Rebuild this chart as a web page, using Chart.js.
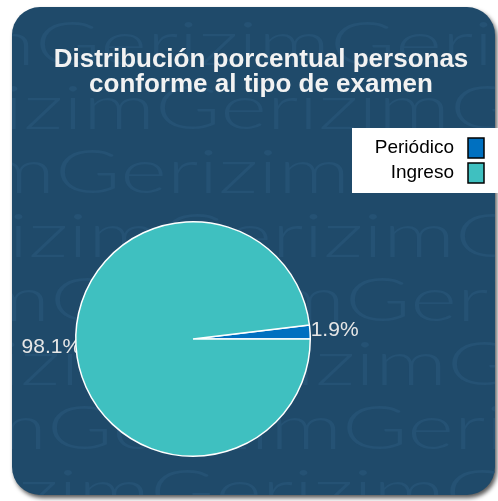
<!DOCTYPE html>
<html>
<head>
<meta charset="utf-8">
<script src="https://cdn.jsdelivr.net/npm/chart.js@4"></script>
<style>
  body { margin: 0; background: #ffffff; }
  #chart { display: block; }
</style>
</head>
<body>
<canvas id="chart" width="498" height="501"></canvas>
<script>
// data
const categories = ["Periódico", "Ingreso"];
const percentages = [1.9, 98.1];
const sliceColors = ["#0070C0", "#3FC0C0"];
const titleLines = ["Distribución porcentual personas", "conforme al tipo de examen"];

// watermark rows: baseline y and x where a "G" starts
const wmBaselines = [65, 129, 193, 257, 321, 385, 449, 513];
const wmOffsets = [35, 155, 55, 160, 50, 152, 47, 150];

const CARD = { x: 12, y: 7, w: 483, h: 488, r: 28 };

function cardPath(ctx) {
  ctx.beginPath();
  ctx.roundRect(CARD.x, CARD.y, CARD.w, CARD.h, CARD.r);
}

const backgroundPlugin = {
  id: "cardBackground",
  beforeDraw(chart) {
    const ctx = chart.ctx;
    ctx.save();
    ctx.fillStyle = "#ffffff";
    ctx.fillRect(0, 0, chart.width, chart.height);

    // card with shadow
    ctx.shadowColor = "rgba(0,0,0,0.65)";
    ctx.shadowBlur = 4;
    ctx.shadowOffsetX = 2;
    ctx.shadowOffsetY = 3;
    cardPath(ctx);
    ctx.fillStyle = "#1f4a6a";
    ctx.fill();
    ctx.shadowColor = "transparent";

    // watermark
    cardPath(ctx);
    ctx.clip();
    ctx.font = "300 62px Lato";
    ctx.fillStyle = "#255274";
    ctx.textBaseline = "alphabetic";
    const word = "Gerizim";
    const sx = 295 / ctx.measureText(word).width;
    wmBaselines.forEach((y, i) => {
      let x = wmOffsets[i] - 295;
      ctx.save();
      ctx.scale(sx, 1);
      while (x < chart.width) {
        ctx.fillText(word, x / sx, y);
        x += 295;
      }
      ctx.restore();
    });
    ctx.restore();
  },
  // percentage labels sit under the pie, centred at ~1.21 r
  beforeDatasetsDraw(chart) {
    const ctx = chart.ctx;
    const meta = chart.getDatasetMeta(0);
    ctx.save();
    ctx.font = "21px Arial";
    ctx.fillStyle = "#e6e6e6";
    ctx.textAlign = "center";
    ctx.textBaseline = "middle";
    meta.data.forEach((arc, i) => {
      const p = arc.getProps(["x", "y", "startAngle", "endAngle", "outerRadius"], true);
      const mid = (p.startAngle + p.endAngle) / 2;
      const r = p.outerRadius * 1.21;
      ctx.fillText(percentages[i].toFixed(1) + "%", p.x + Math.cos(mid) * r, p.y + Math.sin(mid) * r);
    });
    ctx.restore();
  },
};

const overlayPlugin = {
  id: "overlay",
  afterDraw(chart) {
    const ctx = chart.ctx;
    ctx.save();

    // title
    ctx.fillStyle = "#f2f2f2";
    ctx.font = "bold 26px Arial";
    ctx.textAlign = "center";
    ctx.textBaseline = "alphabetic";
    titleLines.forEach((line, i) => {
      ctx.fillText(line, 261, 67 + i * 25);
    });

    // legend
    ctx.fillStyle = "#ffffff";
    ctx.fillRect(352, 128, 146, 65);
    ctx.font = "19px Arial";
    ctx.textAlign = "right";
    ctx.textBaseline = "middle";
    categories.forEach((name, i) => {
      const cy = 148 + i * 25;
      ctx.fillStyle = "#000000";
      ctx.fillText(name, 454, cy);
      ctx.fillStyle = sliceColors[i];
      ctx.fillRect(468, cy - 10, 16, 20);
      ctx.strokeStyle = "#000000";
      ctx.lineWidth = 1.5;
      ctx.strokeRect(468, cy - 10, 16, 20);
    });
    ctx.restore();
  },
};

const total = percentages.reduce((a, b) => a + b, 0);

new Chart(document.getElementById("chart"), {
  type: "pie",
  data: {
    labels: categories,
    datasets: [
      {
        data: percentages,
        backgroundColor: sliceColors,
        borderColor: "#ffffff",
        borderWidth: 1.5,
      },
    ],
  },
  options: {
    responsive: false,
    animation: false,
    rotation: 90 - (360 * percentages[0]) / total,
    layout: {
      padding: { left: 75, top: 221, right: 187, bottom: 44 },
    },
    plugins: {
      legend: { display: false },
      title: { display: false },
      tooltip: { enabled: false },
    },
  },
  plugins: [backgroundPlugin, overlayPlugin],
});
</script>
</body>
</html>
